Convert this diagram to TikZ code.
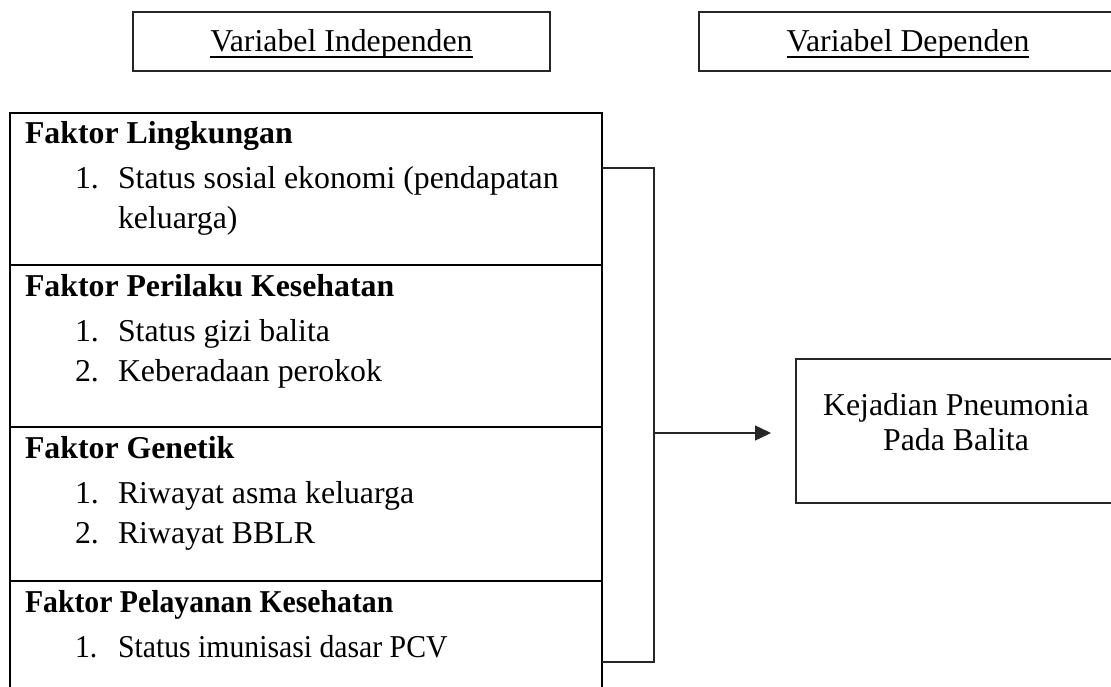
\documentclass[tikz,border=0pt]{standalone}
\usepackage{fontspec}
\usepackage{graphicx}
\setmainfont{Liberation Serif}
\usetikzlibrary{arrows.meta}
\begin{document}
\begin{tikzpicture}[x=1pt,y=-1pt,
  every node/.style={inner sep=0pt, outer sep=0pt, font=\fontsize{31.8}{35}\selectfont},
  thinbox/.style={draw=black!85, line width=1.4pt},
  mainline/.style={draw=black, line width=2.6pt},
  conn/.style={draw=black!85, line width=1.4pt},
  head/.style={anchor=base west, font=\fontsize{31.8}{35}\selectfont\bfseries},
  num/.style={anchor=base west},
  item/.style={anchor=base west},
  txt/.style={anchor=base},
  uline/.style={draw=black, line width=1.8pt}]
\clip (0,0) rectangle (1111,687);
\fill[white] (0,0) rectangle (1111,687);

% top boxes
\node[thinbox, minimum width=417pt, minimum height=59pt] (indep) at (341.5,41.5) {};
\node[txt] (indept) at (341.5,52) {Variabel Independen};
\draw[uline] ([yshift=-5pt]indept.base west) -- ([yshift=-5pt]indept.base east);

\node[thinbox, minimum width=421pt, minimum height=59pt] (dep) at (909.5,41.5) {};
\node[txt] (dept) at (908,52) {Variabel Dependen};
\draw[uline] ([yshift=-5pt]dept.base west) -- ([yshift=-5pt]dept.base east);

% main box
\coordinate (mtl) at (10,113);
\coordinate (mtr) at (602,113);
\draw[mainline] (10,700) -- (mtl) -- (mtr) -- (602,700);
\draw[mainline] (10,265) -- (602,265);
\draw[mainline] (10,427) -- (602,427);
\draw[mainline] (10,581) -- (602,581);

\node[head] (h1) at (25,144) {Faktor Lingkungan};
\node[num] (n11) at (75,189) {1.};
\node[item] (i11) at (118,189) {Status sosial ekonomi (pendapatan};
\node[item] (i11b) at (118,229) {keluarga)};

\node[head] (h2) at (25,296) {Faktor Perilaku Kesehatan};
\node[num] (n21) at (75,341) {1.};
\node[item] (i21) at (118,341) {Status gizi balita};
\node[num] (n22) at (75,381) {2.};
\node[item] (i22) at (118,381) {Keberadaan perokok};

\node[head] (h3) at (25,458) {Faktor Genetik};
\node[num] (n31) at (75,503) {1.};
\node[item] (i31) at (118,503) {Riwayat asma keluarga};
\node[num] (n32) at (75,543) {2.};
\node[item] (i32) at (118,543) {Riwayat BBLR};

\node[head] (h4) at (25,612) {\scalebox{0.935}[1]{Faktor Pelayanan Kesehatan}};
\node[num] (n41) at (75,657) {\scalebox{0.935}[1]{1.}};
\node[item] (i41) at (118,657) {\scalebox{0.935}[1]{Status imunisasi dasar PCV}};

% outcome box
\node[thinbox, minimum width=324pt, minimum height=144pt] (out) at (958,431) {};
\node[txt] (out1) at (956,415) {Kejadian Pneumonia};
\node[txt] (out2) at (956,450) {Pada Balita};

% bracket and arrow
\coordinate (bt) at (602,168);
\coordinate (bb) at (602,662);
\coordinate (jt) at (654,168);
\coordinate (jb) at (654,662);
\coordinate (jn) at (654,433);
\draw[conn] (bt) -- (jt) -- (jb) -- (bb);
\draw[conn, -{Triangle[length=16pt,width=15pt]}, shorten >=25pt] (jn) -- (jn -| out.west);
\end{tikzpicture}
\end{document}
